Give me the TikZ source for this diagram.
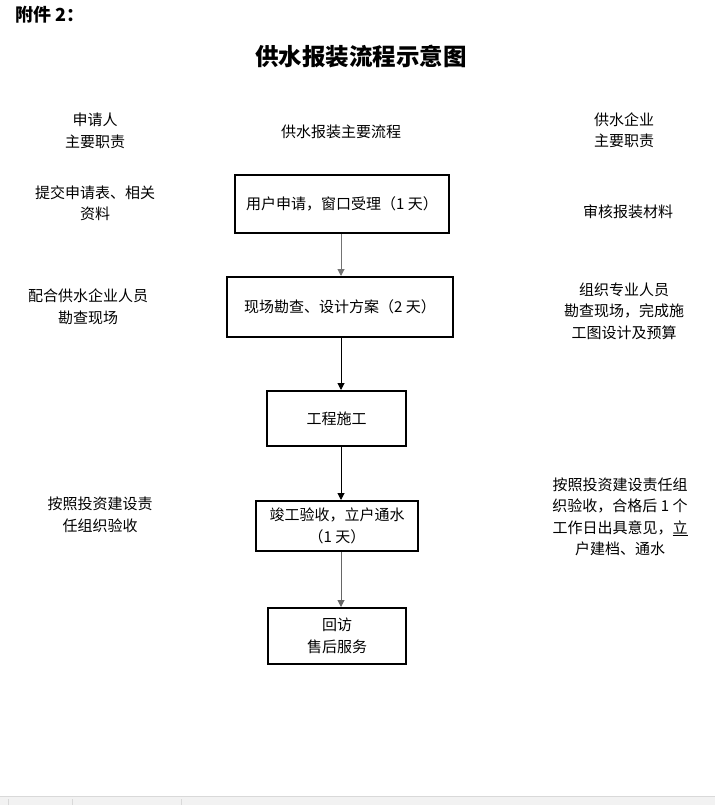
\documentclass[tikz,border=0pt]{standalone}
\usepackage{fontspec}
\setmainfont{Noto Sans CJK SC}
\usetikzlibrary{arrows.meta}

\tikzset{
  stepbox/.style={draw,line width=2pt,align=center,inner sep=0pt},
  sidetext/.style={align=center,font=\fontsize{15}{21.5}\selectfont},
  flow/.style={-{Triangle[length=7pt,width=7pt]},line width=1pt},
}

\begin{document}
\begin{tikzpicture}[x=1pt,y=-1pt,font=\fontsize{15}{21.5}\selectfont]
  \useasboundingbox (0,0) rectangle (715,805);
  % status strip at the foot of the page
  \fill[gray!10] (0,796) rectangle (715,805);
  \draw[gray!30] (0,796) -- (715,796);
  \foreach \x in {8,72,181} {
    \draw[gray!30] (\x,799) -- (\x,805);
  }

  % titles
  \node[anchor=west,font=\fontsize{18}{20}\selectfont\bfseries] (annex) at (12,15) {附件 2：};
  \node[font=\fontsize{23.5}{26}\selectfont\bfseries] (title) at (361,57) {供水报装流程示意图};

  % column heads
  \node[sidetext] (headL) at (95,131) {申请人\\主要职责};
  \node[sidetext] (headM) at (341,132) {供水报装主要流程};
  \node[sidetext] (headR) at (624,130) {供水企业\\主要职责};

  % main flow
  \coordinate (axis) at (341,0);
  \node[stepbox,minimum width=214pt,minimum height=58pt] (b1) at (342,204) {用户申请，窗口受理（1 天）};
  \node[stepbox,minimum width=226pt,minimum height=60pt] (b2) at (340,307) {现场勘查、设计方案（2 天）};
  \node[stepbox,minimum width=139pt,minimum height=55pt] (b3) at (336.5,418.5) {工程施工};
  \node[stepbox,minimum width=162pt,minimum height=50pt] (b4) at (337,526) {竣工验收，立户通水\\（1 天）};
  \node[stepbox,minimum width=138pt,minimum height=56pt] (b5) at (337,636) {回访\\售后服务};

  \draw[flow,draw=black!55,fill=black] (b1.south -| axis) -- (b2.north -| axis);
  \draw[flow] (b2.south -| axis) -- (b3.north -| axis);
  \draw[flow] (b3.south -| axis) -- (b4.north -| axis);
  \draw[flow,draw=black!60,fill=black] (b4.south -| axis) -- (b5.north -| axis);

  % applicant side
  \node[sidetext] (l1) at (95,203) {提交申请表、相关\\资料};
  \node[sidetext] (l2) at (88,307) {配合供水企业人员\\勘查现场};
  \node[sidetext] (l3) at (100,515) {按照投资建设责\\任组织验收};

  % water company side
  \node[sidetext] (r1) at (628,212) {审核报装材料};
  \node[sidetext] (r2) at (624,311) {组织专业人员\\勘查现场，完成施\\工图设计及预算};
  \node[sidetext] (r3) at (620,517) {按照投资建设责任组\\织验收，合格后 1 个\\工作日出具意见，\underline{立}\\户建档、通水};
\end{tikzpicture}
\end{document}
